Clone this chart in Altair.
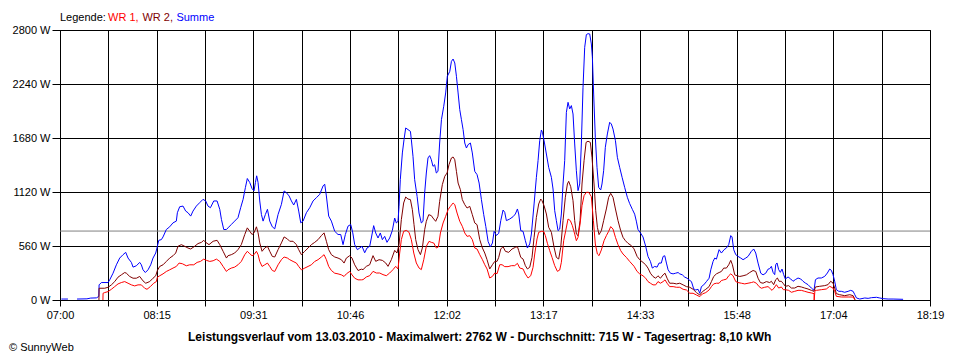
import altair as alt
import pandas as pd

# ---------------- data (minutes after 07:00, watts) ----------------
TICK_LABELS = ["07:00", "08:15", "09:31", "10:46", "12:02", "13:17", "14:33", "15:48", "17:04", "18:19"]
Y_TICKS = [0, 560, 1120, 1680, 2240, 2800]
AVERAGE_W = 715

SUMME_EARLY = [(1.1, 10), (3.0, 10), (6.2, 10)]

SUMME = [(13.3, 10), (21.0, 12), (24.0, 20), (28.4, 22), (30.3, 37), (30.5, 157), (32.3, 181), (37.5, 181), (38.8, 209),
         (41.4, 278), (44.0, 365), (46.6, 435), (49.2, 470), (51.3, 494), (53.1, 435), (55.7, 390), (57.0, 341), (59.6, 355),
         (62.2, 390), (63.5, 365), (64.8, 313), (66.6, 285), (68.7, 313), (70.8, 365), (72.6, 435), (74.7, 487), (76.0, 557),
         (77.1, 619), (79.1, 626), (80.4, 654), (83.0, 731), (85.6, 759), (88.2, 800), (90.8, 818), (91.6, 905), (93.4, 967),
         (96.0, 974), (98.1, 922), (99.9, 905), (102.0, 870), (103.8, 922), (106.4, 974), (109.0, 1009), (111.6, 1044),
         (113.7, 1027), (115.5, 974), (117.4, 957), (120.0, 1027), (122.6, 1027), (124.7, 940), (126.0, 835), (127.8, 731),
         (129.9, 731), (131.1, 748), (133.7, 783), (136.3, 818), (138.9, 853), (141.0, 957), (142.9, 1044), (144.7, 1166),
         (146.2, 1260), (148.1, 1218), (149.9, 1155), (151.4, 1131), (152.5, 1218), (153.5, 1288), (154.6, 1218),
         (155.9, 1027), (157.2, 887), (158.5, 818), (160.3, 887), (161.9, 940), (163.7, 818), (165.7, 759), (167.6, 738),
         (170.2, 887), (172.8, 992), (174.9, 1131), (176.7, 1113), (178.8, 1079), (180.6, 1027), (182.4, 985), (184.5, 1044),
         (186.3, 922), (187.9, 800), (189.7, 818), (192.3, 905), (194.9, 957), (197.5, 1027), (200.1, 1061), (202.7, 1096),
         (205.3, 1183), (206.6, 1201), (207.9, 1079), (209.7, 870), (211.8, 818), (214.4, 713), (217.0, 679), (219.1, 679),
         (220.9, 574), (222.7, 679), (224.8, 766), (226.9, 783), (228.5, 696), (230.0, 574), (232.1, 522), (233.9, 539),
         (235.7, 557), (237.8, 490), (239.6, 539), (241.7, 557), (243.0, 643), (244.8, 771), (246.4, 695), (248.2, 643),
         (250.0, 695), (251.6, 626), (253.4, 660), (255.2, 598), (257.3, 643), (259.4, 722), (261.2, 850), (262.5, 799),
         (263.8, 816), (264.6, 971), (265.6, 1248), (267.2, 1525), (268.5, 1663), (269.8, 1784), (271.6, 1767), (273.5, 1749),
         (274.2, 1663), (275.5, 1490), (276.8, 1248), (278.7, 1075), (280.2, 902), (282.0, 799), (283.3, 816), (284.6, 1110),
         (285.9, 1317), (287.2, 1473), (288.5, 1497), (289.8, 1455), (291.1, 1386), (292.4, 1403), (293.7, 1317),
         (295.0, 1334), (296.3, 1628), (297.7, 1870), (299.5, 2009), (301.0, 2147), (302.3, 2320), (304.2, 2371),
         (305.5, 2475), (306.8, 2499), (308.1, 2458), (309.4, 2320), (310.7, 2147), (312.0, 1974), (313.3, 1870),
         (314.6, 1767), (315.9, 1628), (317.2, 1576), (318.5, 1611), (320.3, 1628), (321.8, 1525), (323.7, 1334),
         (325.5, 1300), (327.1, 1213), (328.9, 1041), (330.7, 885), (332.3, 764), (334.1, 608), (335.9, 550), (337.5, 591),
         (338.8, 712), (340.6, 670), (342.4, 691), (344.0, 823), (345.8, 933), (347.1, 909), (348.4, 823), (351.0, 840),
         (353.6, 864), (355.4, 892), (357.0, 944), (358.0, 892), (359.6, 719), (361.4, 712), (363.2, 615), (364.8, 539),
         (366.6, 581), (367.9, 684), (370.0, 996), (371.8, 1272), (373.1, 1445), (374.4, 1652), (375.7, 1763), (376.5, 1739),
         (377.8, 1652), (379.6, 1514), (381.4, 1376), (383.5, 1272), (384.8, 1151), (386.1, 926), (387.4, 823), (388.7, 719),
         (390.0, 736), (391.3, 892), (392.6, 1203), (393.9, 1445), (395.2, 1946), (396.5, 2050), (397.8, 1981), (399.1, 2016),
         (400.4, 1929), (401.7, 1618), (403.0, 1341), (404.3, 1134), (405.6, 1203), (406.9, 1618), (408.2, 2206),
         (409.5, 2620), (410.8, 2752), (412.1, 2762), (413.4, 2759), (414.7, 2655), (415.5, 2517), (416.5, 2136),
         (417.8, 1687), (419.1, 1376), (420.4, 1168), (422.0, 1141), (423.0, 1203), (424.3, 1341), (425.6, 1583),
         (427.2, 1722), (429.0, 1843), (430.3, 1825), (431.6, 1773), (433.5, 1652), (435.0, 1480), (436.8, 1376),
         (438.7, 1272), (440.7, 1168), (442.8, 1065), (444.6, 1000), (446.7, 940), (448.5, 890), (449.8, 818), (451.1, 731),
         (453.0, 696), (455.0, 654), (457.1, 557), (458.9, 452), (460.8, 400), (462.3, 331), (464.1, 348), (466.0, 341),
         (467.5, 383), (469.3, 383), (470.7, 452), (472.0, 459), (473.3, 383), (474.6, 313), (476.4, 278), (478.5, 271),
         (480.5, 278), (482.4, 285), (483.7, 271), (485.7, 261), (487.6, 237), (489.4, 226), (490.9, 209), (492.8, 191),
         (494.6, 115), (496.2, 104), (498.0, 111), (499.3, 70), (500.6, 139), (502.4, 157), (504.5, 191), (506.6, 226),
         (507.9, 313), (509.7, 400), (511.0, 435), (512.3, 424), (514.4, 522), (516.2, 487), (518.3, 522), (520.1, 539),
         (521.9, 574), (523.5, 668), (524.5, 654), (525.8, 522), (527.4, 470), (529.2, 452), (531.3, 435), (533.1, 418),
         (535.2, 435), (537.0, 452), (539.6, 505), (541.4, 529), (543.0, 487), (544.8, 383), (546.9, 278), (548.7, 261),
         (550.8, 278), (552.6, 320), (553.9, 325), (555.2, 349), (556.5, 287), (557.8, 263), (558.6, 366), (559.6, 384),
         (560.9, 315), (562.2, 287), (563.5, 321), (564.8, 263), (566.1, 218), (568.2, 239), (570.3, 218), (572.1, 194),
         (573.9, 211), (576.0, 228), (578.1, 218), (579.9, 194), (581.7, 176), (583.8, 159), (586.4, 124), (588.5, 100),
         (589.6, 211), (591.6, 228), (594.2, 228), (596.8, 245), (598.9, 280), (600.7, 321), (602.0, 308), (603.3, 263),
         (604.6, 194), (605.9, 107), (607.8, 90), (609.8, 90), (612.4, 80), (615.1, 90), (617.1, 100), (619.0, 90),
         (620.3, 55), (621.6, 21), (624.2, 10), (628.1, 21), (630.7, 17), (633.3, 24), (637.2, 28), (639.8, 21),
         (642.4, 14), (646.3, 10), (650.2, 10), (658.0, 7)]

WR2 = [(30.4, 0), (30.5, 122), (34.9, 122), (37.5, 132), (40.1, 157), (42.7, 191), (45.3, 237), (47.9, 261), (50.5, 285),
       (51.8, 278), (54.4, 244), (57.0, 226), (59.6, 226), (62.2, 244), (64.8, 198), (66.9, 174), (70.0, 191), (72.6, 226),
       (74.7, 251), (76.0, 306), (77.8, 348), (80.4, 365), (83.0, 400), (85.6, 435), (88.2, 459), (90.3, 487), (92.1, 557),
       (94.7, 574), (97.3, 557), (99.9, 539), (102.0, 529), (105.1, 557), (107.7, 585), (110.4, 598), (112.2, 619),
       (113.7, 598), (116.3, 574), (119.5, 609), (122.6, 619), (124.7, 574), (127.3, 505), (129.9, 435), (131.1, 459),
       (133.7, 470), (136.3, 487), (138.9, 522), (141.5, 574), (144.2, 679), (146.2, 748), (148.1, 713), (149.9, 679),
       (151.4, 696), (153.3, 759), (154.6, 696), (155.9, 592), (157.7, 505), (159.8, 539), (161.9, 557), (163.7, 505),
       (165.7, 452), (167.6, 446), (170.2, 522), (172.8, 592), (174.9, 654), (177.5, 633), (179.3, 609), (181.9, 609),
       (184.5, 574), (186.3, 522), (188.4, 470), (191.0, 505), (193.6, 539), (196.2, 574), (198.8, 598), (201.4, 626),
       (204.0, 668), (206.1, 696), (207.9, 609), (209.7, 522), (211.8, 470), (214.4, 446), (217.0, 435), (219.6, 418),
       (221.7, 383), (223.5, 435), (226.1, 459), (227.9, 435), (230.0, 365), (232.6, 306), (235.2, 320), (236.5, 315),
       (239.1, 349), (241.7, 366), (244.3, 460), (246.4, 401), (249.0, 418), (251.6, 411), (254.2, 384), (256.0, 349),
       (258.6, 418), (261.2, 515), (263.0, 487), (264.6, 574), (266.4, 833), (268.2, 1006), (269.8, 1068), (271.6, 1047),
       (273.5, 1041), (275.0, 937), (276.3, 781), (277.6, 626), (279.4, 522), (281.3, 470), (282.8, 539), (284.6, 729),
       (285.9, 816), (287.8, 885), (289.8, 875), (291.1, 850), (293.2, 816), (295.0, 868), (296.3, 1023), (298.4, 1196),
       (300.3, 1283), (302.1, 1317), (303.6, 1404), (305.5, 1473), (306.8, 1483), (308.1, 1455), (309.4, 1334),
       (310.7, 1213), (312.5, 1144), (314.0, 1041), (315.9, 989), (317.7, 954), (319.8, 971), (321.8, 885), (323.7, 799),
       (325.5, 781), (327.6, 626), (329.7, 539), (331.5, 487), (333.3, 418), (335.4, 322), (337.5, 366), (339.3, 400),
       (341.1, 401), (342.4, 442), (344.0, 529), (345.8, 553), (347.6, 505), (350.2, 494), (352.8, 529), (355.4, 546),
       (357.0, 553), (358.0, 512), (359.6, 442), (361.4, 425), (363.2, 356), (364.8, 322), (366.6, 339), (368.4, 442),
       (370.0, 650), (371.8, 857), (373.6, 996), (375.2, 1047), (376.2, 1030), (377.8, 978), (379.6, 892), (381.4, 754),
       (383.5, 702), (385.6, 546), (387.4, 442), (389.2, 425), (390.8, 546), (392.6, 823), (394.4, 1065), (396.0, 1203),
       (397.0, 1231), (398.6, 1175), (400.4, 1030), (401.7, 823), (403.0, 684), (404.3, 667), (405.9, 823), (407.4, 1203),
       (409.0, 1445), (410.6, 1635), (412.1, 1646), (413.9, 1635), (415.2, 1480), (416.8, 1203), (418.1, 926),
       (419.4, 754), (420.7, 678), (422.5, 719), (424.3, 823), (426.4, 944), (428.2, 1065), (429.8, 1106), (431.6, 1065),
       (433.5, 944), (435.5, 823), (437.6, 719), (439.4, 650), (441.3, 615), (443.3, 588), (446.0, 563), (448.0, 530),
       (450.4, 452), (452.4, 418), (455.0, 390), (457.1, 365), (458.9, 331), (460.8, 278), (462.8, 244), (464.9, 226),
       (466.7, 251), (468.6, 226), (470.7, 261), (472.2, 278), (473.8, 226), (475.8, 174), (478.5, 174), (481.1, 167),
       (483.7, 174), (486.3, 157), (488.9, 139), (491.5, 132), (494.1, 111), (496.7, 77), (499.3, 52), (501.4, 87),
       (504.0, 111), (506.6, 139), (508.4, 191), (510.2, 244), (512.3, 271), (514.4, 285), (516.2, 296), (518.0, 331),
       (520.1, 331), (521.9, 365), (523.5, 411), (524.8, 365), (526.6, 261), (528.4, 251), (530.5, 244), (533.1, 251),
       (535.7, 261), (538.3, 285), (540.9, 306), (543.0, 296), (544.8, 226), (546.6, 181), (548.7, 174), (551.3, 191),
       (553.9, 181), (555.2, 194), (557.0, 159), (558.6, 211), (559.9, 228), (561.2, 194), (563.0, 194), (564.6, 169),
       (566.1, 142), (568.7, 149), (570.8, 124), (573.4, 124), (576.0, 142), (578.6, 135), (581.2, 124), (583.8, 114),
       (586.4, 100), (588.5, 90), (589.6, 135), (592.9, 142), (596.8, 149), (599.4, 159), (601.5, 194), (603.3, 176),
       (604.6, 124), (605.9, 66), (608.5, 55), (612.4, 45), (616.4, 55), (619.0, 45), (620.3, 10), (620.5, 0)]

WR1 = [(33.5, 0), (33.6, 70), (34.9, 77), (37.5, 87), (40.1, 111), (42.7, 139), (45.3, 167), (47.9, 181), (50.5, 191),
       (53.1, 174), (55.7, 157), (58.3, 146), (60.9, 157), (63.5, 157), (66.1, 122), (67.9, 111), (70.5, 139), (73.1, 174),
       (75.2, 191), (76.0, 237), (77.8, 251), (80.4, 271), (83.0, 296), (85.6, 313), (88.2, 331), (90.8, 348), (92.9, 383),
       (95.5, 376), (98.6, 355), (101.2, 365), (104.4, 365), (107.0, 390), (109.6, 400), (112.2, 424), (114.3, 411),
       (116.9, 400), (119.5, 407), (122.1, 424), (124.7, 400), (127.3, 348), (129.9, 296), (131.1, 313), (133.7, 331),
       (136.3, 341), (138.9, 365), (141.5, 400), (144.2, 470), (146.2, 505), (148.1, 480), (149.9, 459), (151.4, 470),
       (153.3, 505), (154.6, 470), (155.9, 400), (157.7, 348), (159.8, 365), (161.9, 383), (163.7, 348), (165.7, 306),
       (167.6, 296), (170.2, 365), (172.8, 418), (174.9, 446), (177.5, 435), (179.3, 418), (181.9, 400), (184.5, 383),
       (186.3, 348), (188.4, 313), (191.0, 331), (193.6, 348), (196.2, 365), (198.8, 400), (201.4, 418), (204.0, 446),
       (206.1, 470), (207.9, 418), (209.7, 348), (211.8, 306), (214.4, 278), (217.0, 271), (219.6, 261), (221.7, 244),
       (223.5, 271), (226.1, 296), (227.9, 261), (230.0, 226), (232.6, 209), (235.2, 209), (236.5, 211), (239.1, 239),
       (241.7, 252), (244.3, 297), (246.9, 280), (249.5, 280), (252.1, 263), (254.7, 252), (257.3, 280), (259.9, 315),
       (262.0, 349), (263.8, 322), (265.1, 487), (266.4, 626), (268.2, 712), (270.3, 722), (272.4, 702), (274.2, 626),
       (276.1, 487), (278.1, 384), (280.2, 332), (282.0, 315), (283.9, 418), (285.9, 557), (288.0, 608), (289.8, 598),
       (291.7, 591), (293.7, 539), (295.3, 550), (296.9, 695), (299.0, 799), (301.0, 868), (302.9, 937), (304.7, 971),
       (306.8, 1006), (308.1, 989), (309.9, 902), (312.0, 816), (314.0, 764), (315.9, 695), (317.7, 660), (319.8, 667),
       (321.8, 626), (323.7, 539), (325.5, 529), (327.6, 470), (329.7, 418), (331.5, 366), (333.3, 322), (335.4, 228),
       (337.5, 245), (339.3, 280), (341.1, 273), (343.2, 366), (345.0, 366), (347.1, 346), (349.7, 346), (352.3, 356),
       (354.9, 356), (357.0, 380), (358.8, 332), (361.4, 322), (363.2, 270), (365.3, 228), (367.4, 252), (369.2, 339),
       (370.5, 477), (372.3, 633), (373.6, 702), (375.7, 712), (377.5, 712), (378.8, 667), (380.4, 588), (382.2, 512),
       (384.0, 442), (386.1, 356), (388.2, 297), (390.0, 311), (391.3, 391), (393.1, 615), (394.7, 719), (396.5, 840),
       (398.3, 823), (399.9, 771), (401.7, 684), (403.0, 615), (404.3, 650), (405.9, 788), (407.4, 978), (409.0, 1082),
       (410.8, 1117), (412.6, 1117), (414.7, 1072), (416.3, 823), (417.8, 581), (419.4, 477), (420.7, 460), (422.5, 519),
       (424.6, 615), (426.4, 667), (428.2, 712), (429.8, 761), (431.6, 736), (433.5, 650), (435.5, 574), (437.6, 512),
       (439.4, 477), (442.0, 442), (444.6, 400), (448.0, 350), (450.4, 296), (452.4, 271), (455.0, 251), (457.1, 226),
       (458.9, 191), (460.8, 174), (462.8, 157), (464.9, 157), (466.7, 191), (468.6, 174), (470.7, 191), (472.2, 209),
       (473.8, 174), (475.8, 139), (478.5, 139), (481.1, 132), (483.7, 132), (486.3, 111), (488.9, 104), (491.5, 70),
       (494.1, 70), (496.7, 52), (499.3, 35), (501.4, 63), (504.0, 77), (506.6, 104), (508.4, 139), (510.2, 167),
       (512.3, 174), (514.4, 174), (516.2, 202), (518.0, 209), (520.1, 216), (521.9, 251), (523.5, 271), (525.3, 251),
       (527.4, 191), (529.2, 181), (531.8, 174), (534.4, 167), (537.0, 174), (539.6, 181), (541.4, 188), (543.5, 174),
       (545.6, 139), (547.4, 122), (550.0, 132), (552.6, 139), (555.7, 100), (557.3, 124), (559.1, 159), (560.9, 124),
       (563.0, 135), (564.6, 107), (566.1, 107), (568.7, 100), (570.8, 80), (573.4, 90), (576.0, 100), (578.6, 100),
       (581.2, 90), (583.8, 80), (586.4, 73), (588.5, 66), (588.6, 0), (589.2, 100), (590.3, 100), (594.2, 107),
       (598.1, 114), (600.7, 142), (603.3, 124), (604.6, 90), (605.9, 38), (609.8, 31), (615.1, 31), (619.0, 31),
       (620.3, 3)]

LEGEND_PARTS = ["Legende:", "WR 1,", "WR 2,", "Summe"]
TITLE = "Leistungsverlauf vom 13.03.2010 - Maximalwert: 2762 W - Durchschnitt: 715 W - Tagesertrag: 8,10 kWh"
CREDIT = "\u00a9 SunnyWeb"

FONT = "Liberation Sans"
BLUE, DARKRED, RED, GREY = "#0000ff", "#800000", "#ff0000", "#808080"

# ---------------- scales / axes ----------------
SPAN = 679.0  # 07:00 .. 18:19
STEP = SPAN / 18
x_values = [round(i * STEP, 4) for i in range(19)]
label_arr = [TICK_LABELS[i // 2] if i % 2 == 0 else "" for i in range(19)]
label_expr = "[" + ",".join("'%s'" % s for s in label_arr) + "][round(datum.value/%.6f)]" % STEP

x_scale = alt.Scale(domain=[0, SPAN], nice=False, zero=False)
y_scale = alt.Scale(domain=[0, 2800], nice=False)

common_axis = dict(grid=True, gridColor="black", gridOpacity=1, gridWidth=1, domainColor="black",
                   domainWidth=1, tickColor="black", tickWidth=1, labelFont=FONT, labelFontSize=11,
                   labelColor="black", labelOverlap=False, labelFlush=False, title=None)

x_axis = alt.Axis(values=x_values, labelExpr=label_expr, tickSize=6, labelPadding=3, labelAngle=0, **common_axis)
y_axis = alt.Axis(values=Y_TICKS, labelExpr="datum.value + ' W'", tickSize=8, labelPadding=2, **common_axis)

X_ENC = alt.X("t:Q", scale=x_scale, axis=x_axis)
Y_ENC = alt.Y("w:Q", scale=y_scale, axis=y_axis)


def frame(points):
    return pd.DataFrame(points, columns=["t", "w"])


def line(points, color):
    return alt.Chart(frame(points)).mark_line(color=color, strokeWidth=1, interpolate="linear").encode(
        x=X_ENC, y=Y_ENC, order="t:Q")


avg = alt.Chart(pd.DataFrame({"w": [AVERAGE_W]})).mark_rule(color=GREY, strokeWidth=1).encode(y=Y_ENC)

layers = [
    avg,
    line(SUMME_EARLY, BLUE),
    line(SUMME, BLUE),
    line(WR2, DARKRED),
    line(WR1, RED),
]

legend_x = [0, 48, 82.4, 116.4]
legend_colors = ["black", RED, DARKRED, BLUE]
for txt, xx, col in zip(LEGEND_PARTS, legend_x, legend_colors):
    layers.append(
        alt.Chart(pd.DataFrame({"txt": [txt]})).mark_text(
            font=FONT, fontSize=11, color=col, align="left", baseline="alphabetic"
        ).encode(x=alt.value(xx), y=alt.value(-9), text="txt:N")
    )

layers.append(
    alt.Chart(pd.DataFrame({"txt": [TITLE]})).mark_text(
        font=FONT, fontSize=12, fontWeight="bold", color="black", align="center", baseline="alphabetic"
    ).encode(x=alt.value(419.7), y=alt.value(311), text="txt:N")
)
layers.append(
    alt.Chart(pd.DataFrame({"txt": [CREDIT]})).mark_text(
        font=FONT, fontSize=11, color="black", align="left", baseline="alphabetic"
    ).encode(x=alt.value(-51), y=alt.value(320.5), text="txt:N")
)

chart = alt.layer(*layers).properties(
    width=870,
    height=270,
    padding={"left": 52, "top": 22, "right": 22, "bottom": 58},
    autosize=alt.AutoSizeParams(type="none"),
    background="white",
).configure_view(stroke="black", strokeWidth=1)

chart.save("out.html", embed_options={"renderer": "svg", "actions": False})
